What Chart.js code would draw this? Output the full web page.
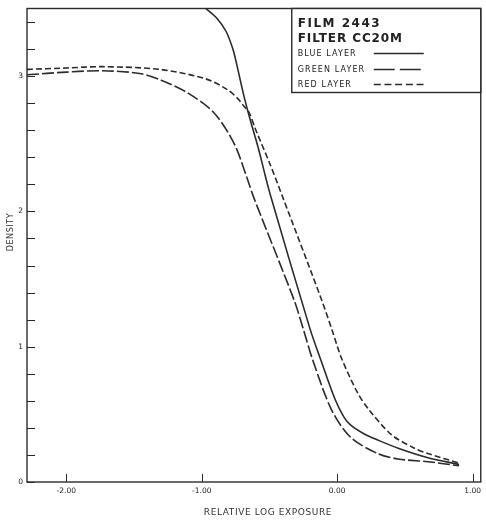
<!DOCTYPE html>
<html lang="en">
<head>
  <meta charset="UTF-8" />
  <title>Film 2443 - Filter CC20M</title>
  <script src="https://cdn.jsdelivr.net/npm/chart.js"></script>
  <style>
    html, body { margin: 0; padding: 0; background: #fff; }
    canvas { display: block; }
  </style>
</head>
<body>
  <canvas id="curveChart" width="486" height="520"></canvas>

  <script>
    // Characteristic curves: density vs relative log exposure, one per layer
    const blueLogE    = [-0.97, -0.89, -0.82, -0.77, -0.74, -0.69, -0.64, -0.58, -0.53, -0.49, -0.20, -0.12, -0.015, 0.05, 0.10, 0.20, 0.30, 0.45, 0.67, 0.90];
    const blueDensity = [ 3.50,  3.43,  3.33,  3.20,  3.08,  2.86,  2.67,  2.46,  2.26,  2.11,  1.13,  0.90,  0.61,  0.48, 0.42, 0.355, 0.31, 0.25, 0.18, 0.13];

    const greenLogE    = [-2.29, -2.00, -1.73, -1.46, -1.30, -1.11, -0.91, -0.76, -0.67, -0.615, -0.32, -0.25, -0.18, -0.04, 0.10, 0.30, 0.45, 0.67, 0.90];
    const greenDensity = [ 3.01,  3.03,  3.04,  3.02,  2.97,  2.88,  2.73,  2.50,  2.26,  2.10,   1.35,  1.13,  0.90,  0.53, 0.33, 0.21, 0.17, 0.15, 0.12];

    const redLogE    = [-2.29, -2.00, -1.73, -1.31, -0.97, -0.81, -0.73, -0.69, -0.65, -0.60, -0.50, -0.40, -0.12, -0.04, 0.03, 0.15, 0.23, 0.40, 0.57, 0.67, 0.90];
    const redDensity = [ 3.05,  3.06,  3.07,  3.05,  2.98,  2.90,  2.83,  2.78,  2.73,  2.60,  2.36,  2.10,  1.36,  1.13, 0.92, 0.66, 0.54, 0.35, 0.25, 0.21, 0.14];

    const xTickValues = [-2, -1, 0, 1];
    const yLabelValues = [0, 1, 2, 3];

    const ink = '#2b2b2b';
    const font = 'DejaVu Sans';

    const toPoints = (xs, ys) => xs.map((x, i) => ({ x: x, y: ys[i] }));

    // minor density ticks every 0.2
    const yMinorTicks = [];
    for (let i = 0; i <= 17; i++) yMinorTicks.push(i / 5);

    // frame, inward ticks, axis titles and the boxed legend
    const framePlugin = {
      id: 'frame',
      afterDraw(chart) {
        const { ctx, chartArea: a, scales } = chart;
        ctx.save();
        ctx.strokeStyle = ink;
        ctx.lineWidth = 1.4;
        ctx.strokeRect(a.left, a.top, a.right - a.left, a.bottom - a.top);

        ctx.lineWidth = 1;
        ctx.beginPath();
        scales.y.ticks.forEach(t => {
          const py = Math.round(scales.y.getPixelForValue(t.value)) + 0.5;
          ctx.moveTo(a.left, py);
          ctx.lineTo(a.left + 8, py);
        });
        scales.x.ticks.forEach(t => {
          const px = Math.round(scales.x.getPixelForValue(t.value)) + 0.5;
          ctx.moveTo(px, a.bottom);
          ctx.lineTo(px, a.bottom - 8);
        });
        ctx.stroke();

        ctx.fillStyle = '#333';
        ctx.textAlign = 'center';
        ctx.textBaseline = 'middle';
        ctx.font = `9px "${font}"`;
        ctx.letterSpacing = '0.6px';
        ctx.fillText('RELATIVE LOG EXPOSURE', 268, 513);

        ctx.save();
        ctx.translate(11, 232);
        ctx.rotate(-Math.PI / 2);
        ctx.font = `8px "${font}"`;
        ctx.fillText('DENSITY', 0, 0);
        ctx.restore();

        // legend box in the upper right corner
        const bx = a.right - 189, by = a.top, bw = 189, bh = 84;
        ctx.fillStyle = '#fff';
        ctx.fillRect(bx, by, bw, bh);
        ctx.lineWidth = 1.4;
        ctx.strokeRect(bx, by, bw, bh);

        ctx.fillStyle = '#222';
        ctx.textAlign = 'left';
        ctx.font = `bold 12px "${font}"`;
        ctx.letterSpacing = '1.5px';
        ctx.fillText('FILM 2443', bx + 6, by + 15);
        ctx.letterSpacing = '0.9px';
        ctx.fillText('FILTER CC20M', bx + 6, by + 30);

        const rows = [
          { label: 'BLUE LAYER', dash: [], y: by + 45 },
          { label: 'GREEN LAYER', dash: [21, 5], y: by + 61 },
          { label: 'RED LAYER', dash: [7, 3.7], y: by + 76 }
        ];
        ctx.font = `8px "${font}"`;
        ctx.letterSpacing = '1.1px';
        ctx.lineWidth = 1.5;
        rows.forEach(r => {
          ctx.fillText(r.label, bx + 6, r.y);
          ctx.setLineDash(r.dash);
          ctx.beginPath();
          ctx.moveTo(bx + 82, r.y);
          ctx.lineTo(bx + 132, r.y);
          ctx.stroke();
        });
        ctx.setLineDash([]);
        ctx.restore();
      }
    };

    const lineStyle = {
      showLine: true,
      pointRadius: 0,
      borderColor: ink,
      borderWidth: 1.6,
      fill: false,
      tension: 0.3
    };

    new Chart(document.getElementById('curveChart'), {
      type: 'scatter',
      data: {
        datasets: [
          { ...lineStyle, label: 'BLUE LAYER', data: toPoints(blueLogE, blueDensity) },
          { ...lineStyle, label: 'GREEN LAYER', data: toPoints(greenLogE, greenDensity), borderDash: [12, 3] },
          { ...lineStyle, label: 'RED LAYER', data: toPoints(redLogE, redDensity), borderDash: [6, 3] }
        ]
      },
      options: {
        responsive: false,
        animation: false,
        layout: { padding: { top: 8, right: 1, left: 0, bottom: 0 } },
        plugins: {
          legend: { display: false },
          tooltip: { enabled: false }
        },
        scales: {
          x: {
            type: 'linear',
            min: -2.29,
            max: 1.06,
            afterFit(s) { s.height = 38; },
            afterBuildTicks(s) { s.ticks = xTickValues.map(v => ({ value: v })); },
            grid: { display: false, drawTicks: false },
            border: { display: false },
            ticks: {
              autoSkip: false,
              maxRotation: 0,
              padding: 5,
              color: '#222',
              font: { family: font, size: 7.5 },
              callback: v => v.toFixed(2)
            }
          },
          y: {
            type: 'linear',
            min: 0,
            max: 3.5,
            afterFit(s) { s.width = 27; },
            afterBuildTicks(s) { s.ticks = yMinorTicks.map(v => ({ value: v })); },
            grid: { display: false, drawTicks: false },
            border: { display: false },
            ticks: {
              autoSkip: false,
              padding: 4,
              color: '#222',
              font: { family: font, size: 7.5 },
              callback: v => {
                const r = Math.round(v);
                return Math.abs(v - r) < 1e-6 && yLabelValues.includes(r) ? String(r) : '';
              }
            }
          }
        }
      },
      plugins: [framePlugin]
    });
  </script>
</body>
</html>
